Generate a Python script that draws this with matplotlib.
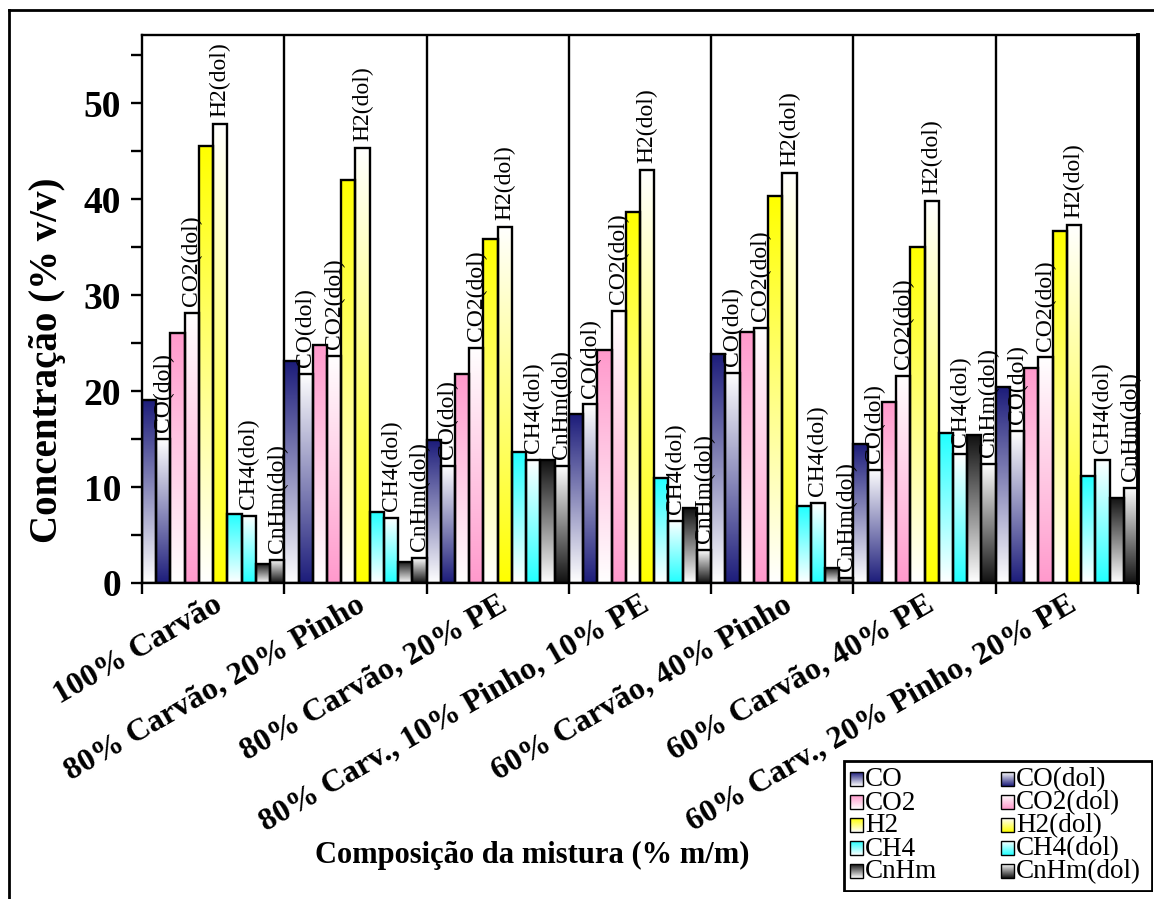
import numpy as np
import matplotlib
matplotlib.use("Agg")
import matplotlib.pyplot as plt
import matplotlib.colors as mcolors
from matplotlib.lines import Line2D
from matplotlib.patches import Rectangle
from matplotlib.transforms import ScaledTranslation

# ---------------- data ----------------
categories = ["100% Carvão", "80% Carvão, 20% Pinho", "80% Carvão, 20% PE",
              "80% Carv., 10% Pinho, 10% PE", "60% Carvão, 40% Pinho",
              "60% Carvão, 40% PE", "60% Carv., 20% Pinho, 20% PE"]

series_names = ["CO", "CO(dol)", "CO2", "CO2(dol)", "H2", "H2(dol)",
                "CH4", "CH4(dol)", "CnHm", "CnHm(dol)"]

CO = [19.1, 23.1, 14.9, 17.6, 23.9, 14.5, 20.4]
CO_dol = [15.0, 21.8, 12.2, 18.6, 21.9, 11.8, 15.8]
CO2 = [26.1, 24.8, 21.8, 24.3, 26.2, 18.9, 22.4]
CO2_dol = [28.1, 23.7, 24.5, 28.3, 26.6, 21.6, 23.5]
H2 = [45.5, 42.0, 35.8, 38.7, 40.3, 35.0, 36.7]
H2_dol = [47.8, 45.3, 37.1, 43.0, 42.7, 39.8, 37.3]
CH4 = [7.2, 7.4, 13.7, 10.9, 8.0, 15.6, 11.1]
CH4_dol = [7.0, 6.8, 12.8, 6.5, 8.3, 13.4, 12.8]
CnHm = [2.0, 2.2, 12.8, 7.8, 1.6, 15.4, 8.9]
CnHm_dol = [2.4, 2.6, 12.2, 3.4, 0.5, 12.4, 9.9]

series_values = [CO, CO_dol, CO2, CO2_dol, H2, H2_dol, CH4, CH4_dol, CnHm, CnHm_dol]
base_colors = ["#1c1c7a", "#1c1c7a", "#ff99cc", "#ff99cc", "#ffff00", "#ffff00",
               "#22ffff", "#22ffff", "#111111", "#111111"]
is_dol = [False, True] * 5

y_major = [0, 10, 20, 30, 40, 50]
y_minor = [5, 15, 25, 35, 45, 55]

# ---------------- figure ----------------
W, H = 1154, 899
plt.rcParams['font.family'] = ['Liberation Serif', 'DejaVu Serif']
fig = plt.figure(figsize=(W / 100, H / 100), dpi=100)
fig.patch.set_facecolor("white")

ax_l, ax_r, ax_t, ax_b = 142, 1138, 35, 583
ax = fig.add_axes([ax_l / W, 1 - ax_b / H, (ax_r - ax_l) / W, (ax_b - ax_t) / H])


def gradient_img(color, dark_top):
    c = np.array(mcolors.to_rgb(color))
    t = np.linspace(0, 1, 256)[:, None]  # row 0 -> bottom (origin lower)
    if not dark_top:
        t = 1 - t
    img = (1 - t)[..., None] * np.ones(3) + t[..., None] * c
    return img


nser = len(series_names)
bw = 1.0 / nser
x = np.arange(len(categories))
for k in range(nser):
    offs = -0.5 + bw * (k + 0.5)
    bars = ax.bar(x + offs, series_values[k], width=bw, facecolor="none",
                  edgecolor="black", linewidth=1.7, zorder=3)
    img = gradient_img(base_colors[k], dark_top=not is_dol[k])
    for rect in bars:
        x0, y0 = rect.get_x(), rect.get_y()
        w, h = rect.get_width(), rect.get_height()
        ax.imshow(img, extent=(x0, x0 + w, y0, y0 + h), origin="lower",
                  aspect="auto", interpolation="bilinear", zorder=2)
    if is_dol[k]:
        for rect, v in zip(bars, series_values[k]):
            ax.annotate(series_names[k], (rect.get_x() + rect.get_width() / 2, v),
                        xytext=(0, 5), textcoords="offset points",
                        rotation=90, ha="center", va="bottom", fontsize=17,
                        zorder=5, annotation_clip=False)

ax.set_xlim(-0.5, len(categories) - 0.5)
ax.set_ylim(0, 57.1)

# group separators
for i in range(len(categories) - 1):
    ax.axvline(i + 0.5, color="black", linewidth=1.7, zorder=1)

ax.set_yticks(y_major)
ax.set_yticks(y_minor, minor=True)
ax.set_yticklabels([str(v) for v in y_major], fontsize=27, fontweight="bold")
ax.tick_params(axis="y", which="both", direction="out", length=8, width=1.7, pad=7)

ax.set_xticks(np.arange(-0.5, len(categories), 1.0))
ax.set_xticklabels([])
ax.tick_params(axis="x", which="major", direction="out", length=8, width=1.7)
ax.set_xticks(x, minor=True)
ax.set_xticklabels(categories, minor=True, rotation=30, ha="right", va="top",
                   rotation_mode="anchor", fontsize=23, fontweight="bold")
ax.tick_params(axis="x", which="minor", length=0, pad=5)
for lab in ax.get_xticklabels(minor=True):
    lab.set_transform(lab.get_transform() + ScaledTranslation(0.0, 0, fig.dpi_scale_trans))

for s in ax.spines.values():
    s.set_linewidth(1.7)
ax.spines["right"].set_linewidth(2.8)

# axis titles
fig.text(48 / W, 1 - 360 / H, "Concentração (% v/v)", rotation=90, ha="center",
         va="center", fontsize=28, fontweight="bold")
fig.text(532 / W, 1 - 855 / H, "Composição da mistura (% m/m)", ha="center",
         va="center", fontsize=22, fontweight="bold")

# outer frame
fig.add_artist(Line2D([9 / W, 1], [1 - 10 / H, 1 - 10 / H], color="black", linewidth=2))
fig.add_artist(Line2D([9 / W, 9 / W], [0, 1 - 10 / H], color="black", linewidth=2))

# legend (drawn in an axes whose y coordinate is -pixel row)
L0, L1, T0, B0 = 843, 1153, 760, 892
lax = fig.add_axes([L0 / W, 1 - B0 / H, (L1 - L0) / W, (B0 - T0) / H])
lax.axis("off")
lax.add_patch(Rectangle((L0 + 1, -B0 + 1), L1 - L0 - 2, B0 - T0 - 2, facecolor="white",
                        edgecolor="black", linewidth=2, zorder=0))
row_y = [779, 802, 825, 848, 871]
col_x = [850, 1001]
for k in range(nser):
    col = 1 if is_dol[k] else 0
    row = k // 2
    sx, sy = col_x[col], row_y[row]
    img = gradient_img(base_colors[k], dark_top=not is_dol[k])
    lax.imshow(img, extent=(sx, sx + 13, -(sy + 7), -(sy - 7)), origin="lower",
               aspect="auto", interpolation="bilinear", zorder=2)
    lax.add_patch(Rectangle((sx, -(sy + 7)), 13, 14, facecolor="none",
                            edgecolor="black", linewidth=1.0, zorder=3))
    lax.text(sx + 15, -(sy + 1), series_names[k], fontsize=19.5, va="center", ha="left")
lax.set_xlim(L0, L1)
lax.set_ylim(-B0, -T0)

fig.savefig("out.png", dpi=100)
